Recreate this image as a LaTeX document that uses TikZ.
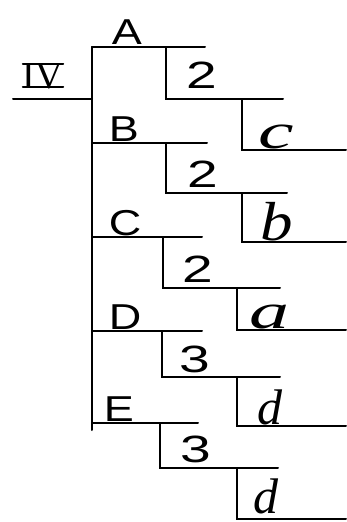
\documentclass[tikz,border=0pt]{standalone}
\usepackage{graphicx}
\usepackage{fontspec}
\newfontfamily\handsans{Liberation Sans}[FakeStretch=1.25]
\newfontfamily\handdigit{Liberation Sans}[FakeStretch=1.45]
\newfontfamily\handital{Liberation Serif Italic}
\newfontfamily\handroman{Liberation Serif}
\begin{document}
\begin{tikzpicture}[x=1pt,y=-1pt,
  ln/.style={line width=2pt,line cap=round},
  caplbl/.style={font=\handsans\fontsize{36}{36}\selectfont,anchor=base,inner sep=0pt},
  diglbl/.style={font=\handdigit\fontsize{38}{38}\selectfont,anchor=base,inner sep=0pt},
  lowlbl/.style={font=\handital\fontsize{50}{50}\selectfont,anchor=base,inner sep=0pt},
  romlbl/.style={font=\handroman\fontsize{38}{38}\selectfont,anchor=base,inner sep=0pt}]
\useasboundingbox (0,0) rectangle (346,522);
% spine and IV
\coordinate (sTop) at (92,47);
\coordinate (sBot) at (92,430);
\draw[ln] (sTop) -- (sBot);
\coordinate (ivL) at (13,99);
\coordinate (ivR) at (92,99);
\draw[ln] (ivL) -- (ivR);
\node[romlbl] (iv) at (43,88) {IV};
\draw[ln] ([yshift=-1pt]iv.north west) -- ([yshift=-1pt]iv.north east);
\draw[ln] ([yshift=1pt]iv.base west) -- ([yshift=1pt]iv.base east);
% groups: top y, top end, x1, y1, end1, x2, y2
\foreach \n/\t/\te/\xa/\ya/\ea/\xb/\yb in {
  A/47/205/166/99/283/242/150,
  B/143/207/166/193/287/242/242,
  C/237/202/163/288/280/237/330,
  D/331/202/162/377/280/237/426,
  E/423/198/160/468/278/237/519}{
  \coordinate (\n t0) at (92,\t);
  \coordinate (\n t1) at (\te,\t);
  \coordinate (\n a0) at (\xa,\t);
  \coordinate (\n a1) at (\xa,\ya);
  \coordinate (\n a2) at (\ea,\ya);
  \coordinate (\n b0) at (\xb,\ya);
  \coordinate (\n b1) at (\xb,\yb);
  \coordinate (\n b2) at (346,\yb);
  \draw[ln] (\n t0) -- (\n t1);
  \draw[ln] (\n a0) -- (\n a1) -- (\n a2);
  \draw[ln] (\n b0) -- (\n b1) -- (\n b2);
}
% labels
\node[caplbl] (lA) at (127,44) {A};
\node[caplbl] (lB) at (124,141) {B};
\node[caplbl] (lC) at (125,235) {C};
\node[caplbl] (lD) at (125,329) {D};
\node[caplbl] (lE) at (119,421) {E};
\node[diglbl] (nA) at (202,88) {2};
\node[diglbl] (nB) at (203,187) {2};
\node[diglbl] (nC) at (198,282) {2};
\node[diglbl] (nD) at (195,372) {3};
\node[diglbl] (nE) at (196,462) {3};
\node[lowlbl] (wA) at (276,148) {\scalebox{1.6}[1]{c}};
\node[lowlbl] (wB) at (277,240) {\scalebox{1.3}[1.1]{b}};
\node[lowlbl] (wC) at (269,328) {\scalebox{1.6}[1]{a}};
\node[lowlbl] (wD) at (270,424) {d};
\node[lowlbl] (wE) at (266,513) {d};
\end{tikzpicture}
\end{document}
